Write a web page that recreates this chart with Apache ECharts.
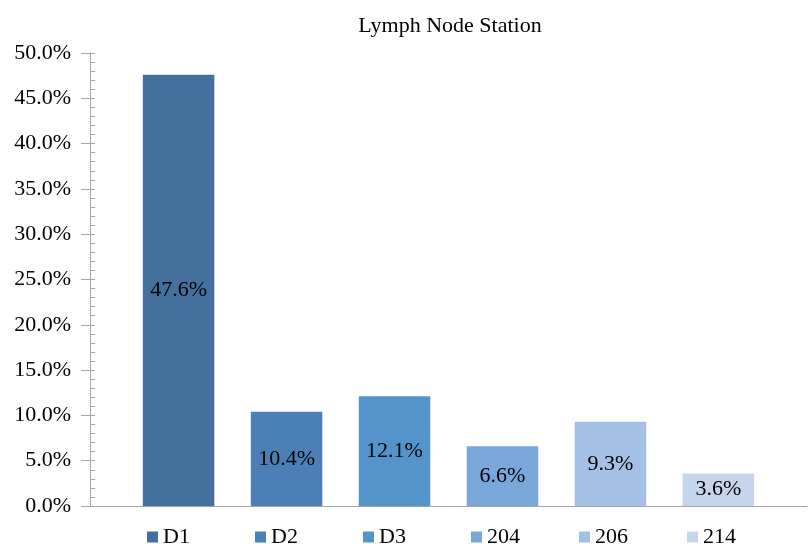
<!DOCTYPE html>
<html>
<head>
<meta charset="utf-8">
<script src="https://cdn.jsdelivr.net/npm/echarts@6/dist/echarts.min.js"></script>
<style>
  html, body { margin: 0; padding: 0; background: #fff; }
  #chart { width: 809px; height: 544px; }
</style>
</head>
<body>
<div id="chart"></div>
<script>
const stations = ["D1", "D2", "D3", "204", "206", "214"];
const shares = [47.6, 10.4, 12.1, 6.6, 9.3, 3.6];
const barColors = ["#43709c", "#4a80b5", "#5593cb", "#79a7da", "#a4c0e4", "#c5d5ed"];

const font = "'Liberation Serif', 'Times New Roman', serif";
const axisGray = "#a6a6a6";

const chart = echarts.init(document.getElementById("chart"));

chart.setOption({
  backgroundColor: "#ffffff",
  animation: false,
  title: {
    text: "Lymph Node Station",
    left: 445,
    top: 10,
    textAlign: "center",
    textStyle: { fontFamily: font, fontSize: 22, fontWeight: "normal", color: "#000" },
  },
  grid: { left: 90, right: 2, top: 53, bottom: 38 },
  // one legend per station so each key sits under its bar
  legend: stations.map((name, i) => ({
    data: [name],
    left: 147 + i * 108,
    top: 526,
    padding: 0,
    icon: "rect",
    itemWidth: 11,
    itemHeight: 11,
    textStyle: { fontFamily: font, fontSize: 22, lineHeight: 21, color: "#000" },
  })),
  xAxis: {
    type: "category",
    data: [""],
    axisLine: { lineStyle: { color: axisGray } },
    axisTick: { show: false },
    axisLabel: { show: false },
  },
  yAxis: [
    {
      type: "value",
      min: 0,
      max: 50,
      interval: 5,
      axisLine: { show: true, lineStyle: { color: axisGray } },
      axisTick: { show: true, length: 9, lineStyle: { color: axisGray } },
      splitLine: { show: false },
      axisLabel: {
        margin: 19,
        fontFamily: font,
        fontSize: 22,
        color: "#000",
        formatter: (v) => v.toFixed(1) + "%",
      },
    },
    {
      // inner half of the major ticks plus the minor ticks
      type: "value",
      position: "left",
      min: 0,
      max: 50,
      interval: 5,
      axisLine: { show: false },
      axisLabel: { show: false },
      splitLine: { show: false },
      axisTick: { show: true, inside: true, length: 5, lineStyle: { color: axisGray } },
      minorTick: { show: true, splitNumber: 5, length: 5, lineStyle: { color: axisGray } },
    },
  ],
  series: stations.map((name, i) => ({
    name: name,
    type: "bar",
    barWidth: 71.5,
    barGap: "51%",
    data: [shares[i]],
    itemStyle: { color: barColors[i] },
    label: {
      show: true,
      position: "inside",
      formatter: "{c}%",
      fontFamily: font,
      fontSize: 22,
      color: "#000",
    },
  })),
});
</script>
</body>
</html>
